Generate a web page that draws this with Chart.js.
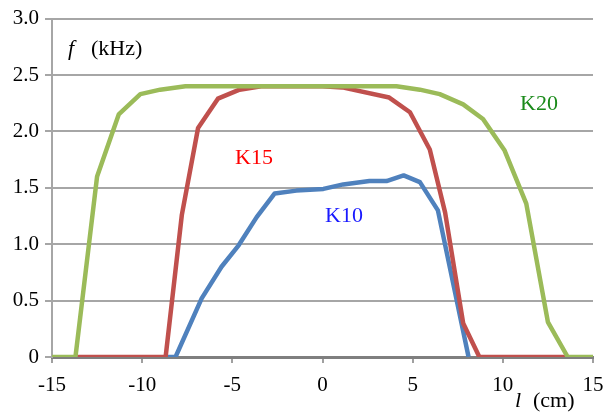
<!DOCTYPE html>
<html>
<head>
<meta charset="utf-8">
<script src="https://cdn.jsdelivr.net/npm/chart.js@4.4.0/dist/chart.umd.min.js"></script>
<style>
  html, body { margin: 0; padding: 0; background: #fff; }
  #wrap { width: 603px; height: 412px; position: relative; }
</style>
</head>
<body>
<div id="wrap"><canvas id="myChart"></canvas></div>
<script>
// values, l in cm, f in kHz
const k20X = [-15, -13.7, -12.5, -11.3, -10.1, -9.0, -7.6, -5.3, -2.9, -0.5, 1.9, 4.1, 5.4, 6.5, 7.8, 8.9, 10.1, 11.3, 12.5, 13.6, 15];
const k20Y = [0, 0, 1.60, 2.15, 2.33, 2.37, 2.40, 2.40, 2.40, 2.40, 2.40, 2.40, 2.37, 2.33, 2.24, 2.11, 1.83, 1.36, 0.31, 0, 0];

const k15X = [-13.7, -8.7, -7.8, -6.9, -5.8, -4.6, -3.4, 0, 1.1, 3.7, 4.85, 5.95, 6.8, 7.8, 8.7, 13.6];
const k15Y = [0, 0, 1.26, 2.03, 2.29, 2.37, 2.40, 2.40, 2.39, 2.30, 2.17, 1.84, 1.28, 0.30, 0, 0];

const k10X = [-8.7, -8.15, -6.7, -5.6, -4.65, -3.65, -2.65, -1.45, 0.05, 1.15, 2.6, 3.55, 4.5, 5.4, 6.4, 8.1];
const k10Y = [0, 0, 0.52, 0.80, 0.99, 1.24, 1.45, 1.475, 1.49, 1.53, 1.56, 1.56, 1.61, 1.55, 1.30, 0];

const xTicks = [-15, -10, -5, 0, 5, 10, 15];
const yTicks = ['0', '0.5', '1.0', '1.5', '2.0', '2.5', '3.0'];

function pts(xs, ys) {
  return xs.map((x, i) => ({ x: x, y: ys[i] }));
}

const serif = '"Liberation Serif", "Times New Roman", serif';

// axis titles and the curve names, drawn on the canvas
const labelsPlugin = {
  id: 'labels',
  afterDraw(chart) {
    const ctx = chart.ctx;
    ctx.save();
    ctx.textBaseline = 'alphabetic';
    ctx.textAlign = 'left';
    ctx.fillStyle = '#000';
    ctx.font = 'italic 22px ' + serif;
    ctx.fillText('f', 68, 55);
    ctx.font = '22px ' + serif;
    ctx.fillText('(kHz)', 91, 55);
    ctx.font = 'italic 22px ' + serif;
    ctx.fillText('l', 515, 407);
    ctx.font = '22px ' + serif;
    ctx.fillText('(cm)', 533, 407);

    ctx.font = '22px ' + serif;
    ctx.fillStyle = '#1a8a1a';
    ctx.fillText('K20', 520, 110);
    ctx.fillStyle = '#ff0000';
    ctx.fillText('K15', 235, 164);
    ctx.fillStyle = '#1a1aff';
    ctx.fillText('K10', 325, 222);
    ctx.restore();
  }
};

const data = {
  datasets: [
    { label: 'K20', data: pts(k20X, k20Y), borderColor: '#9bbb59' },
    { label: 'K15', data: pts(k15X, k15Y), borderColor: '#c0504d' },
    { label: 'K10', data: pts(k10X, k10Y), borderColor: '#4f81bd' }
  ]
};
data.datasets.forEach(d => {
  d.borderWidth = 4.5;
  d.pointRadius = 0;
  d.tension = 0;
  d.fill = false;
  d.borderJoinStyle = 'round';
});

const config = {
  type: 'line',
  data: data,
  options: {
    responsive: true,
    maintainAspectRatio: false,
    animation: false,
    layout: { padding: { left: 0, right: 10, top: 17, bottom: 0 } },
    plugins: { legend: { display: false }, tooltip: { enabled: false } },
    scales: {
      x: {
        type: 'linear',
        min: -15,
        max: 15,
        afterBuildTicks: (s) => { s.ticks = xTicks.map(v => ({ value: v })); },
        afterFit: (s) => { s.height = 55; s.paddingRight = 10; s.paddingLeft = 0; },
        ticks: {
          color: '#000',
          font: { family: serif, size: 21 },
          padding: 10,
          maxRotation: 0,
          callback: (v) => String(v)
        },
        grid: { drawOnChartArea: false, drawTicks: true, tickLength: 6, color: '#a0a0a0', lineWidth: 2 },
        border: { color: '#7f7f7f', width: 3 }
      },
      y: {
        min: 0,
        max: 3,
        afterBuildTicks: (s) => { s.ticks = yTicks.map(t => ({ value: parseFloat(t) })); },
        afterFit: (s) => { s.width = 52; },
        ticks: {
          color: '#000',
          font: { family: serif, size: 21 },
          padding: 6,
          callback: (v, i) => yTicks[i]
        },
        grid: { color: '#a6a6a6', lineWidth: 2, tickLength: 7 },
        border: { color: '#a6a6a6', width: 2 }
      }
    }
  },
  plugins: [labelsPlugin]
};

var myChart = new Chart(document.getElementById('myChart'), config);
</script>
</body>
</html>
